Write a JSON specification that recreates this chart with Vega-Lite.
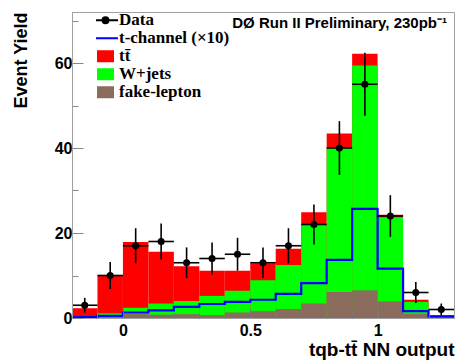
{
  "$schema": "https://vega.github.io/schema/vega-lite/v6.json",
  "width": 382,
  "height": 306,
  "autosize": {"type": "none"},
  "padding": {"left": 72, "top": 12, "right": 1, "bottom": 44},
  "background": "white",
  "config": {"view": {"stroke": "#a0a0a0", "strokeWidth": 1}, "font": "Liberation Sans"},
  "resolve": {"axis": {"x": "independent"}},
  "datasets": {
    "hist": [
      {"lo": -0.2, "hi": -0.1, "series": "tt\u0304", "top": 2.3},
      {"lo": -0.1, "hi": 0.0, "series": "tt\u0304", "top": 10.0},
      {"lo": 0.0, "hi": 0.1, "series": "tt\u0304", "top": 17.9},
      {"lo": 0.1, "hi": 0.2, "series": "tt\u0304", "top": 15.6},
      {"lo": 0.2, "hi": 0.3, "series": "tt\u0304", "top": 12.2},
      {"lo": 0.3, "hi": 0.4, "series": "tt\u0304", "top": 11.1},
      {"lo": 0.4, "hi": 0.5, "series": "tt\u0304", "top": 11.1},
      {"lo": 0.5, "hi": 0.6, "series": "tt\u0304", "top": 12.9},
      {"lo": 0.6, "hi": 0.7, "series": "tt\u0304", "top": 16.3},
      {"lo": 0.7, "hi": 0.8, "series": "tt\u0304", "top": 24.9},
      {"lo": 0.8, "hi": 0.9, "series": "tt\u0304", "top": 43.4},
      {"lo": 0.9, "hi": 1.0, "series": "tt\u0304", "top": 62.2},
      {"lo": 1.0, "hi": 1.1, "series": "tt\u0304", "top": 24.3},
      {"lo": 1.1, "hi": 1.2, "series": "tt\u0304", "top": 4.3},
      {"lo": 1.2, "hi": 1.3, "series": "tt\u0304", "top": 0.6},
      {"lo": -0.2, "hi": -0.1, "series": "W+jets", "top": 0.2},
      {"lo": -0.1, "hi": 0.0, "series": "W+jets", "top": 1.1},
      {"lo": 0.0, "hi": 0.1, "series": "W+jets", "top": 2.4},
      {"lo": 0.1, "hi": 0.2, "series": "W+jets", "top": 3.4},
      {"lo": 0.2, "hi": 0.3, "series": "W+jets", "top": 4.0},
      {"lo": 0.3, "hi": 0.4, "series": "W+jets", "top": 5.2},
      {"lo": 0.4, "hi": 0.5, "series": "W+jets", "top": 6.4},
      {"lo": 0.5, "hi": 0.6, "series": "W+jets", "top": 8.9},
      {"lo": 0.6, "hi": 0.7, "series": "W+jets", "top": 12.5},
      {"lo": 0.7, "hi": 0.8, "series": "W+jets", "top": 22.0},
      {"lo": 0.8, "hi": 0.9, "series": "W+jets", "top": 40.1},
      {"lo": 0.9, "hi": 1.0, "series": "W+jets", "top": 59.4},
      {"lo": 1.0, "hi": 1.1, "series": "W+jets", "top": 23.7},
      {"lo": 1.1, "hi": 1.2, "series": "W+jets", "top": 3.8},
      {"lo": 1.2, "hi": 1.3, "series": "W+jets", "top": 0.5},
      {"lo": -0.2, "hi": -0.1, "series": "fake-lepton", "top": 0.0},
      {"lo": -0.1, "hi": 0.0, "series": "fake-lepton", "top": 0.2},
      {"lo": 0.0, "hi": 0.1, "series": "fake-lepton", "top": 0.9},
      {"lo": 0.1, "hi": 0.2, "series": "fake-lepton", "top": 0.8},
      {"lo": 0.2, "hi": 0.3, "series": "fake-lepton", "top": 0.9},
      {"lo": 0.3, "hi": 0.4, "series": "fake-lepton", "top": 0.7},
      {"lo": 0.4, "hi": 0.5, "series": "fake-lepton", "top": 1.3},
      {"lo": 0.5, "hi": 0.6, "series": "fake-lepton", "top": 1.6},
      {"lo": 0.6, "hi": 0.7, "series": "fake-lepton", "top": 2.1},
      {"lo": 0.7, "hi": 0.8, "series": "fake-lepton", "top": 3.4},
      {"lo": 0.8, "hi": 0.9, "series": "fake-lepton", "top": 6.1},
      {"lo": 0.9, "hi": 1.0, "series": "fake-lepton", "top": 6.5},
      {"lo": 1.0, "hi": 1.1, "series": "fake-lepton", "top": 3.9},
      {"lo": 1.1, "hi": 1.2, "series": "fake-lepton", "top": 1.0},
      {"lo": 1.2, "hi": 1.3, "series": "fake-lepton", "top": 0.3}
    ],
    "tch": [
      {"e": -0.2, "v": 0.2}, {"e": -0.1, "v": 0.5}, {"e": 0.0, "v": 1.3},
      {"e": 0.1, "v": 1.8}, {"e": 0.2, "v": 2.6}, {"e": 0.3, "v": 3.3},
      {"e": 0.4, "v": 3.8}, {"e": 0.5, "v": 4.3}, {"e": 0.6, "v": 5.7},
      {"e": 0.7, "v": 8.2}, {"e": 0.8, "v": 13.7}, {"e": 0.9, "v": 25.7},
      {"e": 1.0, "v": 11.6}, {"e": 1.1, "v": 1.6}, {"e": 1.2, "v": 0.4},
      {"e": 1.3, "v": 0.4}
    ],
    "obs": [
      {"x": -0.15, "lo": -0.2, "hi": -0.1, "n": 3, "ylo": 1.27, "yhi": 4.73},
      {"x": -0.05, "lo": -0.1, "hi": 0.0, "n": 10, "ylo": 6.84, "yhi": 13.16},
      {"x": 0.05, "lo": 0.0, "hi": 0.1, "n": 17, "ylo": 12.88, "yhi": 21.12},
      {"x": 0.15, "lo": 0.1, "hi": 0.2, "n": 18, "ylo": 13.76, "yhi": 22.24},
      {"x": 0.25, "lo": 0.2, "hi": 0.3, "n": 13, "ylo": 9.39, "yhi": 16.61},
      {"x": 0.35, "lo": 0.3, "hi": 0.4, "n": 14, "ylo": 10.26, "yhi": 17.74},
      {"x": 0.45, "lo": 0.4, "hi": 0.5, "n": 15, "ylo": 11.13, "yhi": 18.87},
      {"x": 0.55, "lo": 0.5, "hi": 0.6, "n": 13, "ylo": 9.39, "yhi": 16.61},
      {"x": 0.65, "lo": 0.6, "hi": 0.7, "n": 17, "ylo": 12.88, "yhi": 21.12},
      {"x": 0.75, "lo": 0.7, "hi": 0.8, "n": 22, "ylo": 17.31, "yhi": 26.69},
      {"x": 0.85, "lo": 0.8, "hi": 0.9, "n": 40, "ylo": 33.68, "yhi": 46.32},
      {"x": 0.95, "lo": 0.9, "hi": 1.0, "n": 55, "ylo": 47.58, "yhi": 62.42},
      {"x": 1.05, "lo": 1.0, "hi": 1.1, "n": 24, "ylo": 19.10, "yhi": 28.90},
      {"x": 1.15, "lo": 1.1, "hi": 1.2, "n": 6, "ylo": 3.55, "yhi": 8.45},
      {"x": 1.25, "lo": 1.2, "hi": 1.3, "n": 2, "ylo": 0.59, "yhi": 3.41}
    ],
    "note": [{"x": 1.2725, "y": 68.2, "t": "DØ Run II Preliminary, 230pb⁻¹"}]
  },
  "layer": [
    {
      "data": {"name": "hist"},
      "mark": {"type": "rect"},
      "encoding": {
        "x": {
          "field": "lo", "type": "quantitative",
          "scale": {"domain": [-0.2, 1.3], "nice": false, "zero": false},
          "axis": {
            "orient": "bottom",
            "title": "tqb-tt\u0304 NN output",
            "titleFont": "Liberation Sans", "titleFontSize": 19, "titleFontWeight": "bold", "titleColor": "black",
            "titleAnchor": "end", "titleAlign": "right", "titleBaseline": "alphabetic", "titleX": 382, "titleY": 37,
            "values": [0, 0.5, 1],
            "labelExpr": "datum.value < 0.25 ? '0' : datum.value < 0.75 ? '0.5' : '1'",
            "labelFont": "Liberation Sans", "labelFontSize": 16, "labelFontWeight": "bold", "labelColor": "black",
            "labelOverlap": false, "labelFlush": false, "labelPadding": 14,
            "tickSize": -10,
            "tickColor": "#777", "domainColor": "#a0a0a0", "grid": false, "zindex": 1
          }
        },
        "x2": {"field": "hi"},
        "y": {
          "field": "top", "type": "quantitative",
          "scale": {"domain": [0, 72], "nice": false},
          "axis": {
            "title": "Event Yield",
            "titleFont": "Liberation Sans", "titleFontSize": 18, "titleFontWeight": "bold", "titleColor": "black",
            "titleAngle": 270, "titleAlign": "right", "titleBaseline": "middle", "titleX": -51, "titleY": 0,
            "values": [0, 5, 10, 15, 20, 25, 30, 35, 40, 45, 50, 55, 60, 65, 70],
            "labelExpr": "datum.value % 20 == 0 ? '' + datum.value : ''",
            "labelFont": "Liberation Sans", "labelFontSize": 16, "labelFontWeight": "bold", "labelColor": "black",
            "labelOverlap": false, "labelFlush": false, "labelPadding": 11,
            "tickSize": {"condition": {"test": "datum.value % 20 == 0", "value": -11}, "value": -6},
            "tickColor": "#888", "domainColor": "#a0a0a0", "grid": false, "zindex": 1
          }
        },
        "y2": {"datum": 0},
        "color": {
          "field": "series", "type": "nominal",
          "scale": {
            "domain": ["Data", "t-channel (×10)", "tt\u0304", "W+jets", "fake-lepton"],
            "range": ["#000000", "#0000ff", "#ff0000", "#00ff00", "#8b6b5b"]
          },
          "legend": {
            "orient": "none", "legendX": 24, "legendY": 0, "title": null,
            "labelFont": "Liberation Serif", "labelFontSize": 17, "labelFontWeight": "bold", "labelColor": "black",
            "symbolSize": 289, "rowPadding": 0, "clipHeight": 16.5, "labelOffset": 4, "symbolStrokeWidth": 2,
            "encode": {
              "symbols": {
                "update": {
                  "shape": {"signal": "datum.value == 'Data' ? 'M-1.47,0H1.47M0.35,0A0.35,0.35 0 1 1 -0.35,0A0.35,0.35 0 1 1 0.35,0Z' : datum.value == 't-channel (×10)' ? 'M-1.47,0H1.47' : 'M-1,-0.7H1V0.7H-1Z'"},
                  "fill": {"signal": "datum.value == 't-channel (×10)' ? 'transparent' : scale('color', datum.value)"},
                  "stroke": {"signal": "datum.value == 'Data' ? 'black' : datum.value == 't-channel (×10)' ? '#0000ff' : 'transparent'"},
                  "strokeWidth": {"value": 2}
                }
              }
            }
          }
        }
      }
    },
    {
      "data": {"name": "tch"},
      "mark": {"type": "line", "interpolate": "step-after", "color": "#0000ff", "strokeWidth": 2.2},
      "encoding": {
        "x": {
          "field": "e", "type": "quantitative",
          "axis": {
            "orient": "bottom", "title": null, "labels": false, "domain": false, "grid": false,
            "values": [-0.1, 0.1, 0.2, 0.3, 0.4, 0.6, 0.7, 0.8, 0.9, 1.1, 1.2],
            "tickSize": -5, "tickColor": "#777", "zindex": 1
          }
        },
        "y": {"field": "v", "type": "quantitative"}
      }
    },
    {
      "data": {"name": "obs"},
      "mark": {"type": "rule", "color": "black", "strokeWidth": 1.6},
      "encoding": {
        "x": {"field": "lo", "type": "quantitative", "axis": null},
        "x2": {"field": "hi"},
        "y": {"field": "n", "type": "quantitative"}
      }
    },
    {
      "data": {"name": "obs"},
      "mark": {"type": "rule", "color": "black", "strokeWidth": 1.6},
      "encoding": {
        "x": {"field": "x", "type": "quantitative", "axis": null},
        "y": {"field": "ylo", "type": "quantitative"},
        "y2": {"field": "yhi"}
      }
    },
    {
      "data": {"name": "obs"},
      "mark": {"type": "point", "filled": true, "color": "black", "size": 50, "opacity": 1},
      "encoding": {
        "x": {"field": "x", "type": "quantitative", "axis": null},
        "y": {"field": "n", "type": "quantitative"}
      }
    },
    {
      "data": {"name": "note"},
      "mark": {"type": "text", "align": "right", "baseline": "alphabetic", "font": "Liberation Sans", "fontSize": 15, "fontWeight": "bold", "color": "black"},
      "encoding": {
        "x": {"field": "x", "type": "quantitative", "axis": null},
        "y": {"field": "y", "type": "quantitative"},
        "text": {"field": "t"}
      }
    }
  ]
}
